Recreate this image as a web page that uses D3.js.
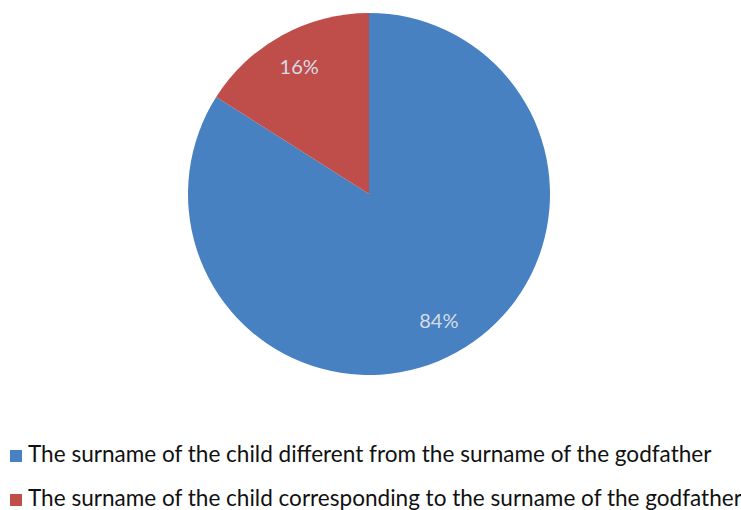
<!DOCTYPE html>
<html><head><meta charset="utf-8">
<script src="https://cdn.jsdelivr.net/npm/d3@7"></script>
<style>html,body{margin:0;padding:0;background:#fff;}</style>
</head><body>
<svg id="chart" width="741" height="510"></svg>
<script>
const categories = [
  "The surname of the child different from the surname of the godfather",
  "The surname of the child corresponding to the surname of the godfather"
];
const values = [84, 16];
const labels = ["84%", "16%"];
const colors = ["#4781C1", "#BF4E4B"];

const svg = d3.select("#chart");
const cx = 369, cy = 194, r = 181;
const data = categories.map((c, i) => ({cat: c, value: values[i], label: labels[i], color: colors[i]}));
const pie = d3.pie().value(d => d.value).sort(null);
const arc = d3.arc().innerRadius(0).outerRadius(r);
const labelArc = d3.arc().innerRadius(145).outerRadius(145);
const g = svg.append("g").attr("transform", `translate(${cx},${cy})`);
const arcs = pie(data);
g.selectAll("path").data(arcs).join("path")
  .attr("d", arc).attr("fill", d => d.data.color);
g.selectAll("text").data(arcs).join("text")
  .attr("transform", d => `translate(${labelArc.centroid(d)})`)
  .attr("text-anchor", "middle").attr("dy", "0.35em")
  .attr("font-family", "Lato, 'Open Sans', sans-serif").attr("font-size", 20)
  .attr("fill", "#D6DCE6")
  .text(d => d.data.label);

const leg = svg.append("g");
const rows = leg.selectAll("g").data(data).join("g")
  .attr("transform", (d, i) => `translate(10,${450 + i * 44})`);
rows.append("rect").attr("width", 12).attr("height", 12).attr("fill", d => d.color);
rows.append("text").attr("x", 18).attr("y", 12)
  .attr("font-family", "Lato, 'Open Sans', sans-serif").attr("font-size", 21)
  .attr("fill", "#111").text(d => d.cat);
// fit first row width to reference (~684px)
const t0 = rows.select("text").node();
const w = t0.getComputedTextLength();
const fs = 21 * 684 / w;
rows.selectAll("text").attr("font-size", fs);
</script>
</body></html>
